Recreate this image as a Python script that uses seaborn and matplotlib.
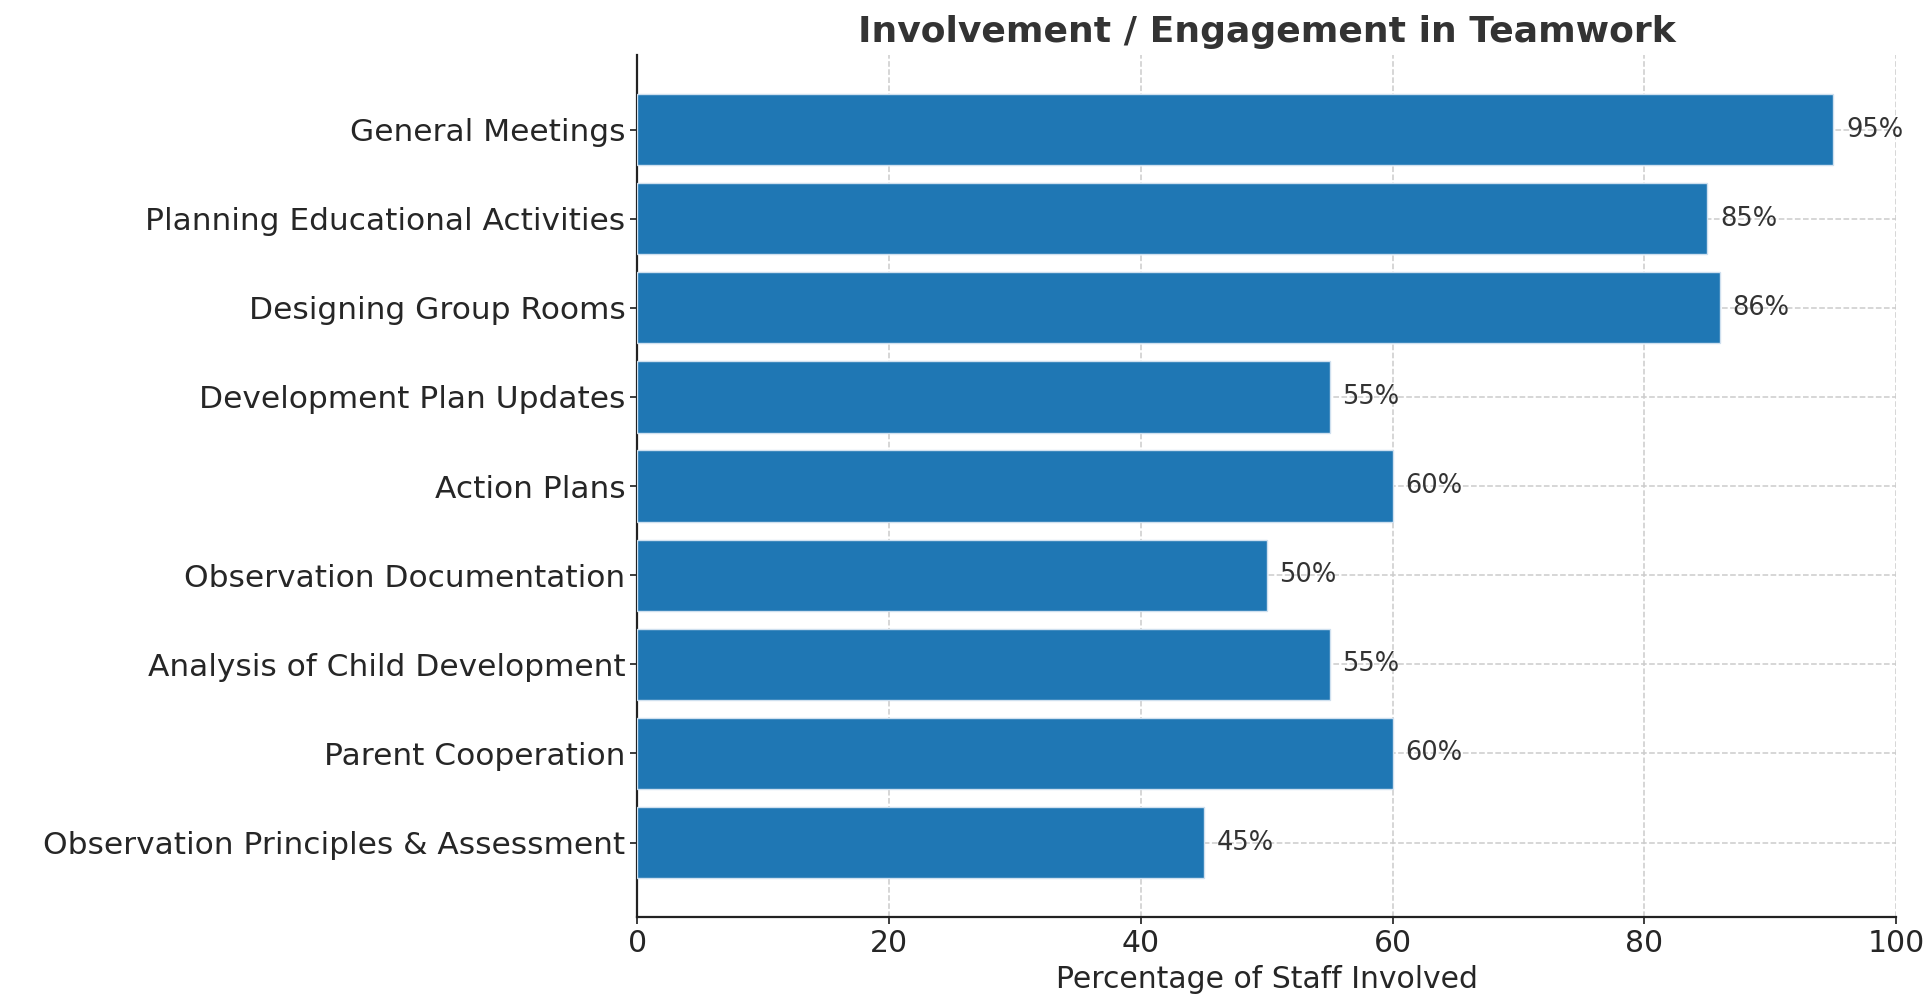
import matplotlib
matplotlib.use('Agg')
import matplotlib.pyplot as plt
import seaborn as sns
import pandas as pd

# dados do grafico
categorias = ['General Meetings', 'Planning Educational Activities', 'Designing Group Rooms',
              'Development Plan Updates', 'Action Plans', 'Observation Documentation',
              'Analysis of Child Development', 'Parent Cooperation',
              'Observation Principles & Assessment']
percentuais = [95, 85, 86, 55, 60, 50, 55, 60, 45]

df = pd.DataFrame({'Categoria': categorias, 'Percentual': percentuais})

sns.set_theme(style='ticks')
plt.rcParams['font.family'] = ['DejaVu Sans']

fig, ax = plt.subplots(figsize=(19.31, 9.94), dpi=100)
fig.subplots_adjust(left=0.33, right=0.982, top=0.945, bottom=0.077)

sns.barplot(data=df, x='Percentual', y='Categoria', orient='h', color='#1f77b4',
            saturation=1, width=0.8, edgecolor='#cfe0ef', linewidth=1, ax=ax, zorder=3)

ax.grid(True, linestyle='--', color='#cccccc', linewidth=1.1, zorder=0)
ax.set_axisbelow(True)

# rotulos de porcentagem ao lado das barras
for i, v in enumerate(percentuais):
    ax.text(v + 1, i, f'{v}%', va='center', ha='left', fontsize=18.5, color='#333333', zorder=4)

ax.set_xlim(0, 100)
ax.set_ylim(8.84, -0.84)
ax.set_xlabel('Percentage of Staff Involved', fontsize=21.5, color='#262626', labelpad=5)
ax.set_ylabel('')
ax.set_title('Involvement / Engagement in Teamwork', fontsize=26, fontweight='bold',
             color='#333333', pad=9)
ax.tick_params(axis='both', labelsize=21.5, colors='#262626', length=5)
ax.tick_params(axis='y', labelsize=22.5)
sns.despine(ax=ax)
for s in ['left', 'bottom']:
    ax.spines[s].set_color('#222222')
    ax.spines[s].set_linewidth(1.6)

plt.savefig('out.png', dpi=100)
